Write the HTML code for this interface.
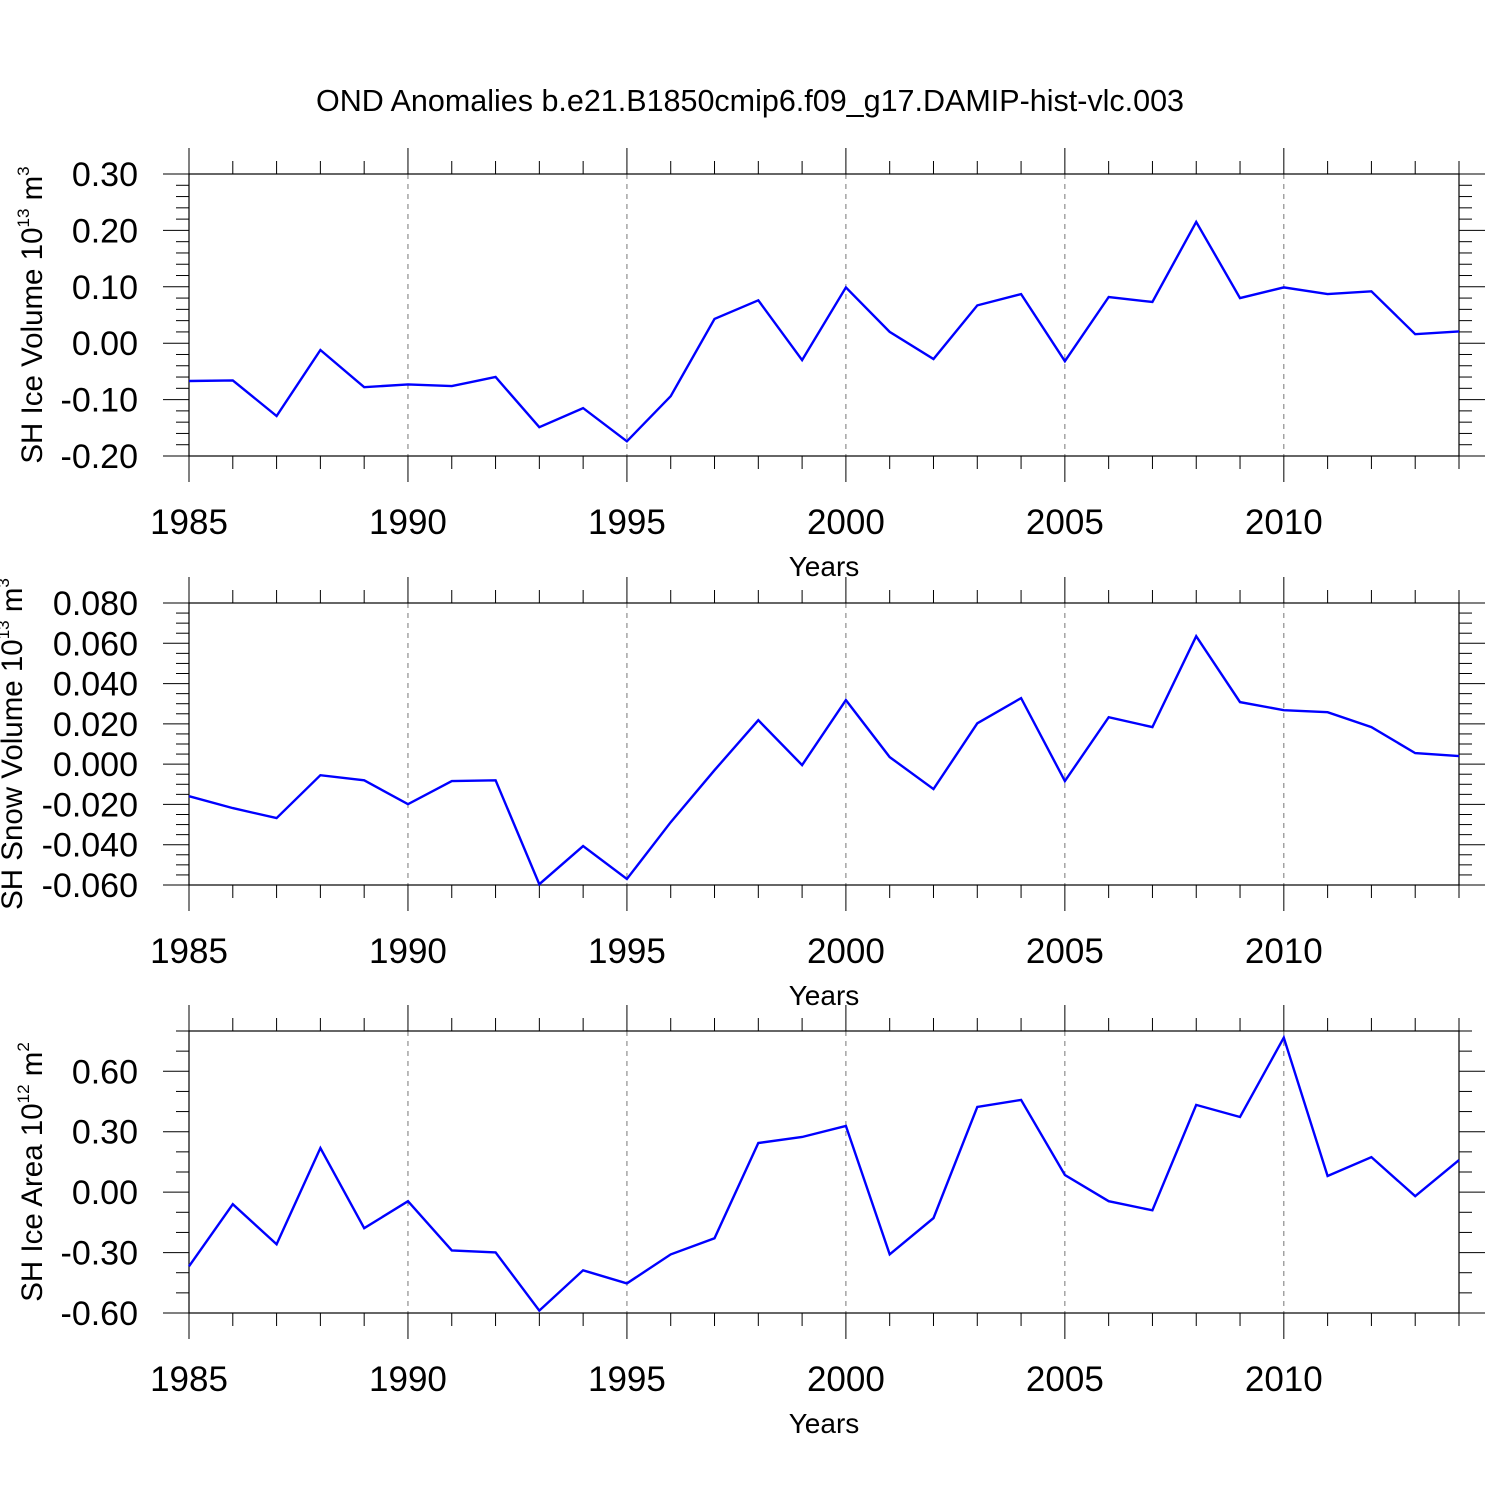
<!DOCTYPE html>
<html><head><meta charset="utf-8"><style>
body{margin:0;background:#fff}
svg{display:block;font-family:"Liberation Sans",Arial,sans-serif}
</style></head><body>
<svg id="c" width="1500" height="1500" viewBox="0 0 1500 1500">
<text x="750" y="111" font-size="30.5" text-anchor="middle">OND Anomalies b.e21.B1850cmip6.f09_g17.DAMIP-hist-vlc.003</text>
</svg>
<script>
const years = [1985,1986,1987,1988,1989,1990,1991,1992,1993,1994,1995,1996,1997,1998,1999,2000,2001,2002,2003,2004,2005,2006,2007,2008,2009,2010,2011,2012,2013,2014];
const iceVolume = [-0.067,-0.066,-0.129,-0.012,-0.078,-0.073,-0.076,-0.060,-0.149,-0.115,-0.174,-0.094,0.043,0.076,-0.030,0.099,0.020,-0.028,0.067,0.087,-0.032,0.082,0.073,0.215,0.080,0.099,0.087,0.092,0.016,0.021];
const snowVolume = [-0.0159,-0.0218,-0.0268,-0.0055,-0.008,-0.0199,-0.0084,-0.008,-0.0596,-0.0407,-0.057,-0.0288,-0.003,0.0218,-0.0005,0.0318,0.0035,-0.0124,0.0203,0.0328,-0.0084,0.0233,0.0184,0.0635,0.0308,0.0268,0.0258,0.0184,0.0055,0.004];
const iceArea = [-0.368,-0.060,-0.259,0.219,-0.179,-0.045,-0.289,-0.299,-0.588,-0.388,-0.453,-0.309,-0.229,0.244,0.274,0.329,-0.309,-0.129,0.423,0.458,0.085,-0.045,-0.090,0.433,0.373,0.767,0.080,0.174,-0.020,0.159];
const xTickLabels = ["1985","1990","1995","2000","2005","2010"];
const ticks1 = ["0.30","0.20","0.10","0.00","-0.10","-0.20"];
const ticks2 = ["0.080","0.060","0.040","0.020","0.000","-0.020","-0.040","-0.060"];
const ticks3 = ["0.60","0.30","0.00","-0.30","-0.60"];

const NS="http://www.w3.org/2000/svg";
const svg=document.getElementById('c');
function mk(t,a,p){const e=document.createElementNS(NS,t);for(const k in a)e.setAttribute(k,a[k]);(p||svg).appendChild(e);return e;}
const X0=189,X1=1459;
function xs(y){return X0+(y-1985)/(2014-1985)*(X1-X0);}

function panel(name,top,ymin,ymax,minorStep,ticks,data,ylab,exp,unitExp,titleX){
  const bot=top+282;
  const g=mk('g',{});
  
  
  const ys=v=>bot-(v-ymin)/(ymax-ymin)*(bot-top);
  for(let yr=1990;yr<=2010;yr+=5){
    const l=mk('line',{x1:xs(yr),x2:xs(yr),y1:top,y2:bot,stroke:'#777','stroke-width':1,'stroke-dasharray':'5,5'},g);
    
    
  }
  for(let yr=1985;yr<=2014;yr++){
    const maj=(yr%5===0), L=maj?26:13;
    mk('line',{x1:xs(yr),x2:xs(yr),y1:bot,y2:bot+L,stroke:'#000','stroke-width':1},g);
    mk('line',{x1:xs(yr),x2:xs(yr),y1:top,y2:top-L,stroke:'#000','stroke-width':1},g);
  }
  xTickLabels.forEach(s=>{
    const t=mk('text',{x:xs(+s),y:bot+78,'font-size':35,'text-anchor':'middle'},g);
    t.textContent=s;
    
    
  });
  const xt=mk('text',{x:824,y:bot+120,'font-size':28,'text-anchor':'middle'},g);
  xt.textContent='Years';
  
  
  const n=Math.round((ymax-ymin)/minorStep);
  for(let i=0;i<=n;i++){
    const v=ymin+i*minorStep;
    const isMaj=ticks.some(s=>Math.abs(parseFloat(s)-v)<minorStep/10);
    const L=isMaj?26:13;
    mk('line',{x1:X0,x2:X0-L,y1:ys(v),y2:ys(v),stroke:'#000','stroke-width':1},g);
    mk('line',{x1:X1,x2:X1+L,y1:ys(v),y2:ys(v),stroke:'#000','stroke-width':1},g);
  }
  ticks.forEach(s=>{
    const t=mk('text',{x:138,y:ys(parseFloat(s))+12,'font-size':34,'text-anchor':'end'},g);
    t.textContent=s;
    
    
  });
  mk('rect',{x:X0,y:top,width:X1-X0,height:bot-top,fill:'none',stroke:'#000','stroke-width':1.2},g);
  const yt=mk('text',{transform:`translate(${titleX},${(top+bot)/2}) rotate(-90)`,'font-size':29.5,'text-anchor':'middle'},g);
  
  
  const a=mk('tspan',{},yt);a.textContent=ylab+' 10';
  const b=mk('tspan',{dy:-13,'font-size':17},yt);b.textContent=exp;
  const c=mk('tspan',{dy:13},yt);c.textContent=' m';
  const d=mk('tspan',{dy:-13,'font-size':17},yt);d.textContent=unitExp;
  const pts=data.map((v,i)=>xs(years[i]).toFixed(1)+','+ys(v).toFixed(1)).join(' ');
  const pl=mk('polyline',{points:pts,fill:'none',stroke:'#0000ff','stroke-width':2.4},g);
  
  
}
panel('ice-volume',174,-0.2,0.3,0.02,ticks1,iceVolume,'SH Ice Volume','13','3',42);
panel('snow-volume',603,-0.06,0.08,0.005,ticks2,snowVolume,'SH Snow Volume','13','3',22);
panel('ice-area',1031,-0.6,0.8,0.1,ticks3,iceArea,'SH Ice Area','12','2',42);
</script>
</body></html>
